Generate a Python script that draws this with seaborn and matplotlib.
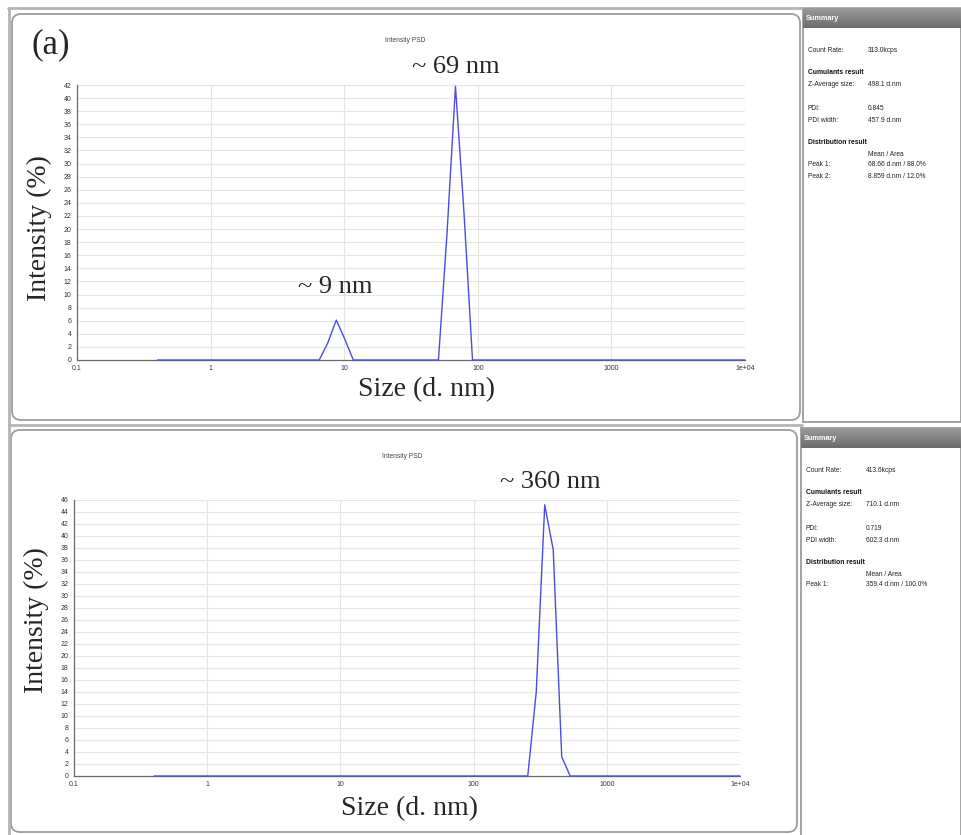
import numpy as np
import pandas as pd
import matplotlib
matplotlib.use("Agg")
import matplotlib.pyplot as plt
import seaborn as sns
from matplotlib.patches import FancyBboxPatch, Rectangle
from matplotlib.ticker import MultipleLocator, LogLocator, FixedLocator, NullFormatter

# ---- data ----
sizes_a = [0.4, 6.503, 7.531, 8.721, 10.1, 11.7, 50.75, 58.77, 68.06, 78.82, 91.28, 10000]
intens_a = [0, 0, 2.6, 6.1, 3.2, 0, 0, 19.2, 41.8, 22.5, 0, 0]

sizes_b = [0.4, 255.0, 295.3, 342.0, 396.1, 458.7, 531.2, 10000]
intens_b = [0, 0, 14.0, 45.2, 37.7, 3.2, 0, 0]

xtick_vals = [0.1, 1, 10, 100, 1000, 10000]
xtick_labels = ["0.1", "1", "10", "100", "1000", "1e+04"]

summary_a = [("Count Rate:", "313.0kcps"),
             ("Cumulants result", None),
             ("Z-Average size:", "498.1 d.nm"),
             ("PDI:", "0.845"),
             ("PDI width:", "457.9 d.nm"),
             ("Distribution result", None),
             ("", "Mean / Area"),
             ("Peak 1:", "68.66 d.nm / 88.0%"),
             ("Peak 2:", "8.859 d.nm / 12.0%")]
summary_b = [("Count Rate:", "413.6kcps"),
             ("Cumulants result", None),
             ("Z-Average size:", "710.1 d.nm"),
             ("PDI:", "0.719"),
             ("PDI width:", "602.3 d.nm"),
             ("Distribution result", None),
             ("", "Mean / Area"),
             ("Peak 1:", "359.4 d.nm / 100.0%")]

sns.set_style("white")
plt.rcParams['font.family'] = ['Liberation Sans', 'DejaVu Sans']

W, H = 961, 835
fig = plt.figure(figsize=(W / 100, H / 100), dpi=100)
fig.patch.set_facecolor("white")

# background canvas in pixel coordinates
bg = fig.add_axes([0, 0, 1, 1])
bg.set_xlim(0, W)
bg.set_ylim(H, 0)
bg.axis("off")

edge = "#9c9c9c"
bg.plot([8, W], [8, 8], color="#b4b4b4", lw=2)
bg.plot([9, 9], [8, H], color="#b4b4b4", lw=2)
bg.plot([9, 802], [425, 425], color="#b4b4b4", lw=2)
for (x0, y0, w, h) in [(12, 14, 788, 406), (11, 430, 786, 402)]:
    bg.add_patch(FancyBboxPatch((x0, y0), w, h, boxstyle="round,pad=0,rounding_size=9",
                                fc="white", ec=edge, lw=1.3))

grad = np.linspace(0, 1, 50).reshape(-1, 1)
hdr_cmap = matplotlib.colors.LinearSegmentedColormap.from_list("hdr", ["#9a9a9a", "#6c6c6c"])


def summary(top, bottom, rows, left=803):
    bg.add_patch(Rectangle((left, top), W - left, bottom - top, fc="white", ec=edge, lw=1.3))
    bg.imshow(grad, extent=(left, W, top + 20, top), cmap=hdr_cmap, aspect="auto", zorder=3)
    bg.text(left + 3, top + 11, "Summary", color="white", fontsize=5.2, fontweight="bold",
            va="center", ha="left", zorder=4)
    offs = [43, 65, 77, 100, 112, 135, 147, 157, 168]
    for (lab, val), dy in zip(rows, offs):
        if val is None:
            bg.text(left + 5, top + dy, lab, fontsize=4.9, fontweight="bold", va="center", color="#111")
        else:
            bg.text(left + 5, top + dy, lab, fontsize=4.8, va="center", color="#222")
            bg.text(left + 65, top + dy, val, fontsize=4.8, va="center", color="#222")


summary(8, 422, summary_a)
summary(428, H + 2, summary_b, left=801)
bg.set_xlim(0, W)
bg.set_ylim(H, 0)

bg.text(51, 45, "(a)", fontsize=25, family="Liberation Serif", ha="center", va="center")
bg.text(405, 41, "Intensity PSD", fontsize=4.8, color="#444", ha="center", va="center")
bg.text(402, 456, "Intensity PSD", fontsize=4.8, color="#444", ha="center", va="center")

line_col = "#4b4be6"


def psd_axes(rect_px, sizes, intens, ymax, label_y, xlab_x, xlab_y):
    l, r, t, b = rect_px
    ax = fig.add_axes([l / W, (H - b) / H, (r - l) / W, (b - t) / H])
    df = pd.DataFrame({"size": sizes, "intensity": intens})
    sns.lineplot(data=df, x="size", y="intensity", ax=ax, color=line_col, lw=1.0,
                 clip_on=False, zorder=5)
    ax.set_xscale("log")
    ax.set_xlim(0.1, 1e4)
    ax.set_ylim(0, ymax)
    ax.set_facecolor("none")
    ax.xaxis.set_major_locator(FixedLocator(xtick_vals))
    ax.set_xticklabels(xtick_labels)
    ax.xaxis.set_minor_locator(LogLocator(base=10, subs=np.arange(2, 10)))
    ax.xaxis.set_minor_formatter(NullFormatter())
    ax.yaxis.set_major_locator(MultipleLocator(2))
    ax.yaxis.set_minor_locator(MultipleLocator(0.5))
    ax.grid(True, which="major", color="#e4e4e4", lw=0.8)
    for s in ["top", "right"]:
        ax.spines[s].set_visible(False)
    for s in ["left", "bottom"]:
        ax.spines[s].set_color("#6a6a6a")
        ax.spines[s].set_linewidth(0.9)
    ax.tick_params(axis="y", which="major", direction="out", length=3, width=0.6,
                   colors="#555", labelsize=5, pad=1, labelcolor="#333")
    ax.tick_params(axis="y", which="minor", direction="out", length=1.5, width=0.5, colors="#555")
    ax.tick_params(axis="x", which="major", direction="inout", length=3, width=0.6,
                   colors="#555", labelsize=5, pad=2, labelcolor="#333")
    ax.tick_params(axis="x", which="minor", direction="inout", length=2, width=0.5, colors="#555")
    ax.set_ylabel("Intensity (%)", fontsize=20, family="Liberation Serif")
    ax.set_xlabel("Size (d. nm)", fontsize=20, family="Liberation Serif")
    ax.yaxis.set_label_coords(-0.037, label_y)
    ax.xaxis.set_label_coords(xlab_x, xlab_y)
    return ax


ax1 = psd_axes((77, 745, 85, 360), sizes_a, intens_a, 42, 0.48, 0.5225, -0.062)
ax2 = psd_axes((74, 740, 500, 776), sizes_b, intens_b, 46, 0.565, 0.5045, -0.072)

serif = dict(fontsize=19, family="Liberation Serif", ha="center", va="center", clip_on=False)
ax1.text(68.7, 44.8, "~ 69 nm", **serif)
ax1.text(8.5, 11.1, "~ 9 nm", **serif)
ax2.text(375, 49.0, "~ 360 nm", **serif)

fig.savefig("out.png", dpi=100)
